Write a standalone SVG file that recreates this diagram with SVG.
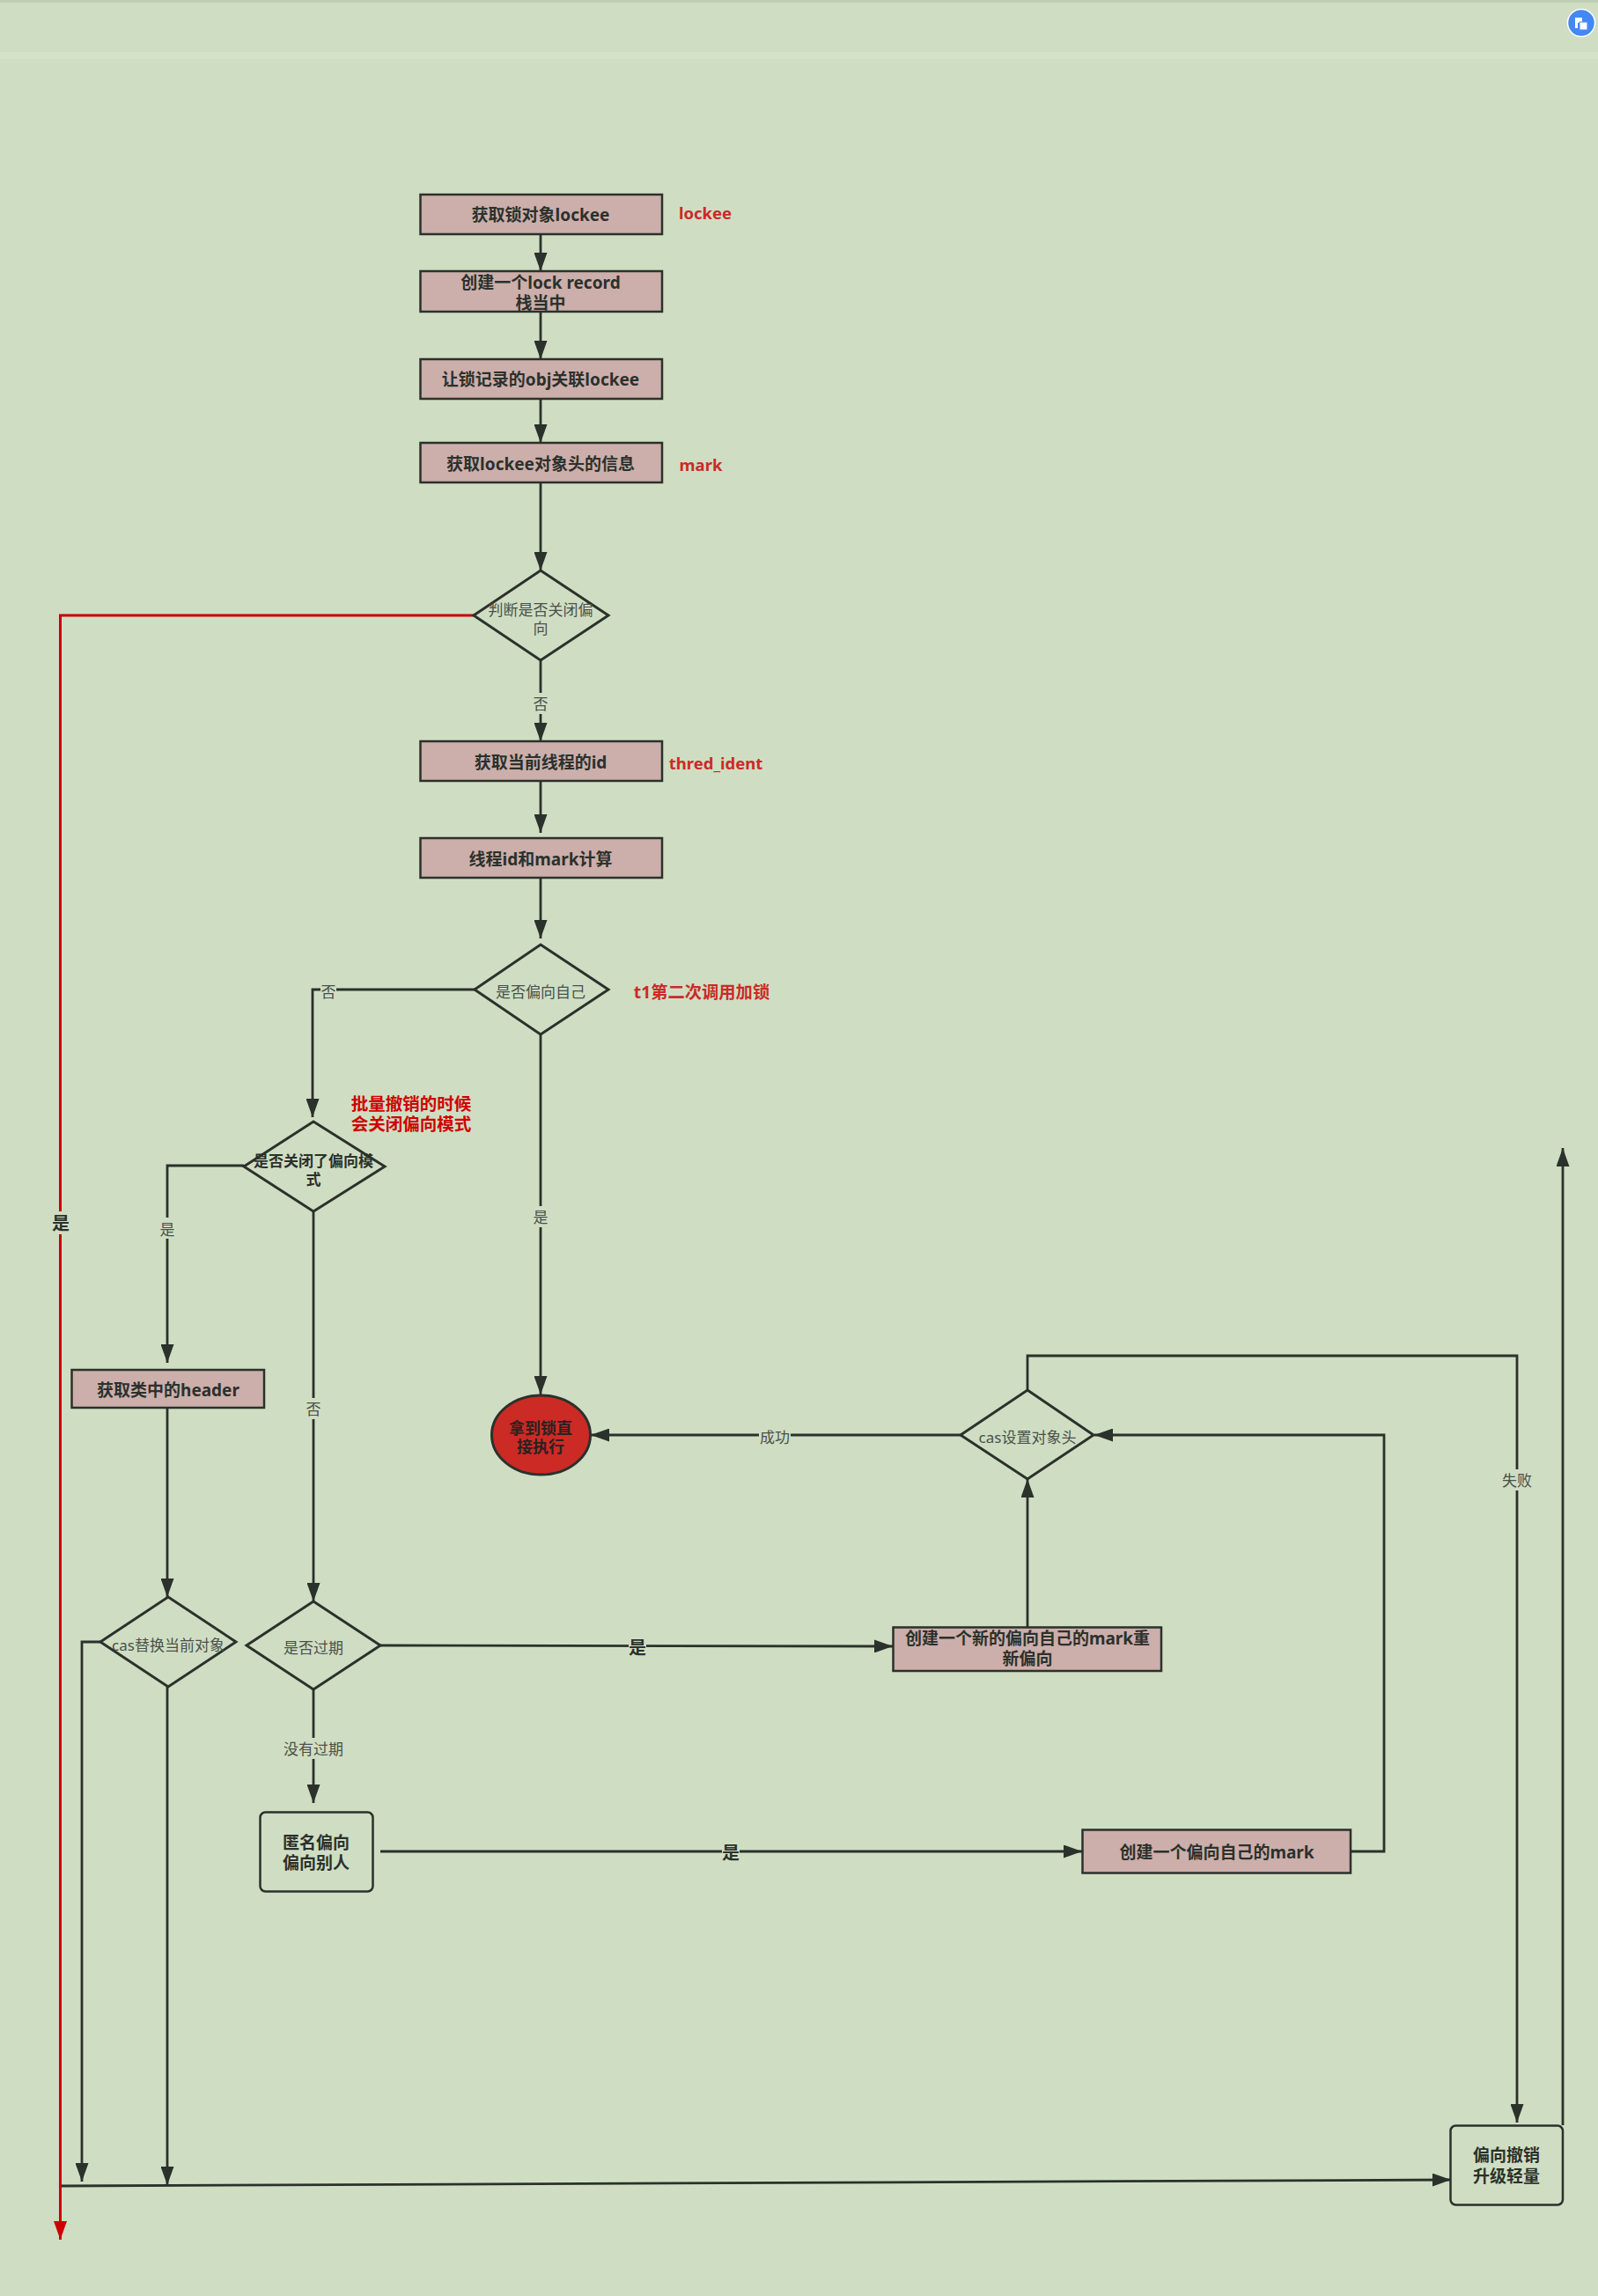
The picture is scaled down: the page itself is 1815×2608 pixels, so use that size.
<svg xmlns="http://www.w3.org/2000/svg" width="1815" height="2608" viewBox="0 0 1815 2608">
<defs>
<style>
text{font-family:"Noto Sans","Noto Sans CJK SC",sans-serif;text-anchor:middle;dominant-baseline:central}
.n{font-size:19px;font-weight:700;fill:#2b312b}
.t{font-size:18px;font-weight:700;fill:#2b211f}
.d{font-size:17px;fill:#4a504a}
.db{font-size:17px;font-weight:700;fill:#2b312b}
.l{font-size:17px;fill:#4a504a}
.lb{font-size:20px;font-weight:700;fill:#2b312b}
.r{font-size:18.500px;font-weight:700;fill:#cc2a28}
.rt{font-size:19.300px;font-weight:700;fill:#cc2a28}
.rr{font-size:19.500px;font-weight:700;fill:#d00000}
.box{fill:#ccaeab;stroke:#2b312b;stroke-width:2.500}
.rnd{fill:#cfdec3;stroke:#2b312b;stroke-width:2.500}
.dia{fill:#cfdec3;stroke:#2b312b;stroke-width:3}
.c{fill:none;stroke:#2b312b;stroke-width:2.800;marker-end:url(#a)}
.red{fill:none;stroke:#cc0000;stroke-width:3;marker-end:url(#ar)}
.bg{fill:#cfdec3}
</style>
<marker id="a" markerUnits="userSpaceOnUse" markerWidth="21" markerHeight="15" refX="21" refY="7.500" orient="auto"><path d="M0 0L21 7.500L0 15Z" fill="#2b312b"/></marker>
<marker id="ar" markerUnits="userSpaceOnUse" markerWidth="21" markerHeight="15" refX="21" refY="7.500" orient="auto"><path d="M0 0L21 7.500L0 15Z" fill="#cc0000"/></marker>
</defs>
<rect width="1815" height="2608" fill="#cfdec3"/>
<rect width="1815" height="3" fill="#bfcfb4"/>
<rect y="59" width="1815" height="8" fill="#d4e3c8"/>
<g id="icon"><circle cx="1796" cy="26" r="15.500" fill="#4488f4" stroke="#fff" stroke-width="1.500"/><rect x="1789" y="20" width="8" height="6" fill="#fff"/><rect x="1789" y="26" width="3" height="6" fill="#fff"/><rect x="1794" y="25" width="9" height="9" fill="#fff" stroke="#4488f4"/></g>
<g id="connectors">
<path class="c" d="M614 266V308"/>
<path class="c" d="M614 354V408"/>
<path class="c" d="M614 453V503"/>
<path class="c" d="M614 548V648"/>
<path class="c" d="M614 749V842"/>
<path class="c" d="M614 887V946"/>
<path class="c" d="M614 997V1066"/>
<path class="red" d="M538 699H68.500V2544"/>
<path class="c" d="M539 1124H355V1269"/>
<path class="c" d="M614 1174V1584"/>
<path class="c" d="M277 1324H190V1548"/>
<path class="c" d="M356 1375V1819"/>
<path class="c" d="M190 1599V1814"/>
<path class="c" d="M114 1865H93V2478"/>
<path class="c" d="M190 1916V2482"/>
<path class="c" d="M70 2483L1648 2476"/>
<path class="c" d="M432 1869L1014 1870"/>
<path class="c" d="M356 1919V2048"/>
<path class="c" d="M432 2103H1229"/>
<path class="c" d="M1534 2103H1572V1630H1243"/>
<path class="c" d="M1167 1848V1680"/>
<path class="c" d="M1091 1630H671"/>
<path class="c" d="M1167 1579V1540H1723V2411"/>
<path class="c" d="M1775 2414V1304"/>
</g>
<g id="edge-labels">
<rect class="bg" x="605" y="787" width="18" height="24"/><text class="l" x="614" y="799">否</text>
<rect class="bg" x="364" y="1114" width="18" height="24"/><text class="l" x="373" y="1126">否</text>
<rect class="bg" x="605" y="1370" width="18" height="24"/><text class="l" x="614" y="1382">是</text>
<rect class="bg" x="181" y="1383" width="18" height="24"/><text class="l" x="190" y="1396">是</text>
<rect class="bg" x="58" y="1376" width="22" height="26"/><text class="lb" x="69" y="1389">是</text>
<rect class="bg" x="347" y="1588" width="18" height="24"/><text class="l" x="356" y="1600">否</text>
<rect class="bg" x="862" y="1620" width="36" height="24"/><text class="l" x="880" y="1632">成功</text>
<rect class="bg" x="1705" y="1669" width="36" height="24"/><text class="l" x="1723" y="1681">失败</text>
<rect class="bg" x="714" y="1859" width="20" height="24"/><text class="lb" x="724" y="1871">是</text>
<rect class="bg" x="321" y="1974" width="70" height="24"/><text class="l" x="356" y="1986">没有过期</text>
<rect class="bg" x="820" y="2092" width="20" height="24"/><text class="lb" x="830" y="2104">是</text>
</g>
<g id="n1"><rect class="box" x="477.500" y="221" width="274.500" height="45"/><text class="n" x="614" y="244">获取锁对象lockee</text></g>
<text class="r" x="801" y="241">lockee</text>
<g id="n2"><rect class="box" x="477.500" y="308" width="274.500" height="46"/><text class="n" x="614" y="321">创建一个lock record</text><text class="n" x="614" y="344">栈当中</text></g>
<g id="n3"><rect class="box" x="477.500" y="408" width="274.500" height="45"/><text class="n" x="614" y="431">让锁记录的obj关联lockee</text></g>
<g id="n4"><rect class="box" x="477.500" y="503" width="274.500" height="45"/><text class="n" x="614" y="527">获取lockee对象头的信息</text></g>
<text class="r" x="796" y="527">mark</text>
<g id="n5"><polygon class="dia" points="614,648 691,699 614,750 538,699"/><text class="d" x="614" y="692">判断是否关闭偏</text><text class="d" x="614" y="713">向</text></g>
<g id="n6"><rect class="box" x="477.500" y="842" width="274.500" height="45"/><text class="n" x="614" y="866">获取当前线程的id</text></g>
<text class="r" x="813" y="866">thred_ident</text>
<g id="n7"><rect class="box" x="477.500" y="952" width="274.500" height="45"/><text class="n" x="614" y="976">线程id和mark计算</text></g>
<g id="n8"><polygon class="dia" points="614,1073 691,1124 614,1175 539,1124"/><text class="d" x="614" y="1126">是否偏向自己</text></g>
<text class="rt" x="797" y="1126">t1第二次调用加锁</text>
<text class="rr" x="467" y="1253">批量撤销的时候</text>
<text class="rr" x="467" y="1276">会关闭偏向模式</text>
<g id="n9"><polygon class="dia" points="356,1274 437,1325 356,1376 277,1325"/><text class="db" x="356" y="1318">是否关闭了偏向模</text><text class="db" x="356" y="1339">式</text></g>
<g id="n10"><rect class="box" x="81.500" y="1556" width="218.500" height="43"/><text class="n" x="191" y="1579">获取类中的header</text></g>
<g id="n11"><ellipse cx="614.500" cy="1630" rx="56" ry="45" fill="#cc2a25" stroke="#2b312b" stroke-width="3"/><text class="t" x="614" y="1622">拿到锁直</text><text class="t" x="614" y="1643">接执行</text></g>
<g id="n12"><polygon class="dia" points="1167,1579 1242,1630 1167,1680 1091,1630"/><text class="d" x="1167" y="1632">cas设置对象头</text></g>
<g id="n13"><polygon class="dia" points="191,1814 268,1865 191,1916 114,1865"/><text class="d" x="191" y="1868">cas替换当前对象</text></g>
<g id="n14"><polygon class="dia" points="356,1819 432,1869 356,1919 280,1869"/><text class="d" x="356" y="1871">是否过期</text></g>
<g id="n15"><rect class="box" x="1014.500" y="1848.500" width="304.500" height="49.500"/><text class="n" x="1167" y="1861">创建一个新的偏向自己的mark重</text><text class="n" x="1167" y="1884">新偏向</text></g>
<g id="n16"><rect class="rnd" x="295.500" y="2058.500" width="128" height="90" rx="6"/><text class="n" x="359" y="2093">匿名偏向</text><text class="n" x="359" y="2116">偏向别人</text></g>
<g id="n17"><rect class="box" x="1229.500" y="2078.500" width="304.500" height="49"/><text class="n" x="1382" y="2104">创建一个偏向自己的mark</text></g>
<g id="n18"><rect class="rnd" x="1647.500" y="2414.500" width="127.500" height="90" rx="6"/><text class="n" x="1711" y="2448">偏向撤销</text><text class="n" x="1711" y="2472">升级轻量</text></g>
</svg>
